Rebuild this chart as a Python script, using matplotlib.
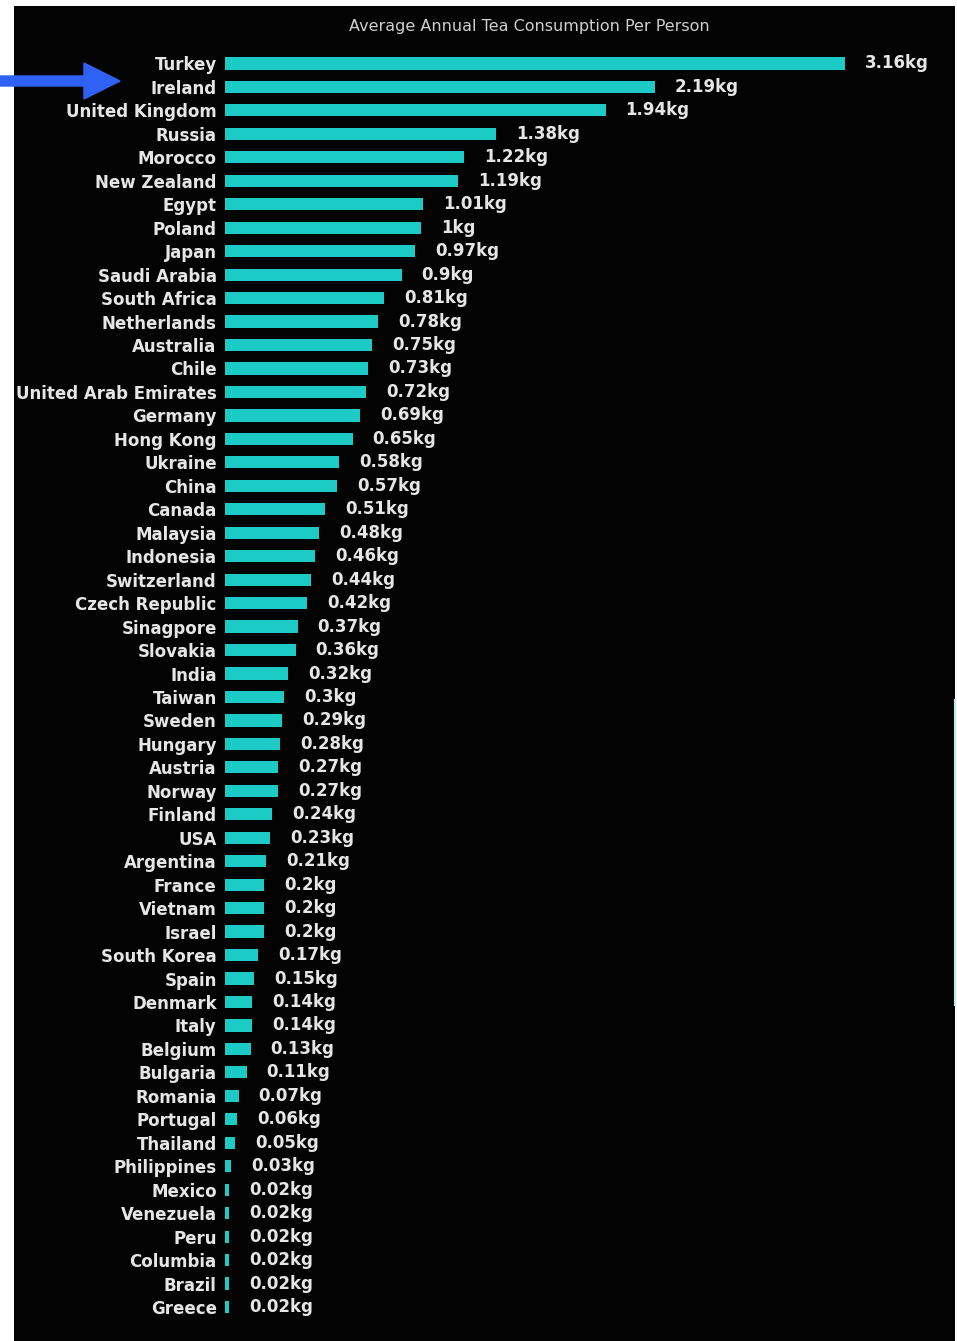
#!/usr/bin/env python3

import matplotlib
matplotlib.use("Agg")
import matplotlib.pyplot as plt
from matplotlib.patches import Rectangle, FancyArrow
from matplotlib.lines import Line2D

countries = [
    "Turkey", "Ireland", "United Kingdom", "Russia", "Morocco", "New Zealand",
    "Egypt", "Poland", "Japan", "Saudi Arabia", "South Africa", "Netherlands",
    "Australia", "Chile", "United Arab Emirates", "Germany", "Hong Kong",
    "Ukraine", "China", "Canada", "Malaysia", "Indonesia", "Switzerland",
    "Czech Republic", "Sinagpore", "Slovakia", "India", "Taiwan", "Sweden",
    "Hungary", "Austria", "Norway", "Finland", "USA", "Argentina", "France",
    "Vietnam", "Israel", "South Korea", "Spain", "Denmark", "Italy", "Belgium",
    "Bulgaria", "Romania", "Portugal", "Thailand", "Philippines", "Mexico",
    "Venezuela", "Peru", "Columbia", "Brazil", "Greece",
]
kg_per_person = [
    3.16, 2.19, 1.94, 1.38, 1.22, 1.19, 1.01, 1.00, 0.97, 0.90, 0.81, 0.78,
    0.75, 0.73, 0.72, 0.69, 0.65, 0.58, 0.57, 0.51, 0.48, 0.46, 0.44, 0.42,
    0.37, 0.36, 0.32, 0.30, 0.29, 0.28, 0.27, 0.27, 0.24, 0.23, 0.21, 0.20,
    0.20, 0.20, 0.17, 0.15, 0.14, 0.14, 0.13, 0.11, 0.07, 0.06, 0.05, 0.03,
    0.02, 0.02, 0.02, 0.02, 0.02, 0.02,
]
title = "Average Annual Tea Consumption Per Person"

BAR = "#1ccbc5"
TXT = "#e6e6e6"
W, H = 957, 1341

plt.rcParams["font.family"] = ["DejaVu Sans"]

fig = plt.figure(figsize=(W / 100, H / 100), dpi=100, facecolor="white")

# black panel behind the chart (screenshot frame)
fig.patches.append(Rectangle((14 / W, 0), (955 - 14) / W, (H - 6) / H,
                             transform=fig.transFigure, facecolor="#030303",
                             edgecolor="none", zorder=-5))
# faint light line on the right edge
fig.add_artist(Line2D([955 / W, 955 / W], [1 - 700 / H, 1 - 1005 / H],
                      transform=fig.transFigure, color="#bfe9f5", lw=1.5, zorder=-4))

# axes: x=0 at 225px, 196.2 px per kg; rows every 23.46px
ax_l, ax_r, ax_t, ax_b = 225, 955, 40, 1330
ax = fig.add_axes([ax_l / W, 1 - ax_b / H, (ax_r - ax_l) / W, (ax_b - ax_t) / H])
ax.set_facecolor("none")
ax.set_zorder(1)

y = list(range(len(countries)))
ax.barh(y, kg_per_person, height=0.52, color=BAR)
ax.set_xlim(0, (ax_r - ax_l) / 196.2)
ax.set_ylim(53.98, -1.0)

ax.set_yticks(y)
ax.set_yticklabels(countries, fontsize=12, fontweight="bold", color=TXT)
ax.tick_params(axis="y", length=0, pad=6)
ax.set_xticks([])
for s in ax.spines.values():
    s.set_visible(False)

for i, v in enumerate(kg_per_person):
    ax.annotate(f"{v:g}kg", (v, i), xytext=(20 * 0.72, 0), textcoords="offset points",
                va="center", ha="left", fontsize=12, fontweight="bold", color=TXT)

fig.text(529.5 / W, 1 - 26 / H, title, ha="center", va="center",
         fontsize=11.5, color="#cfcfcf")

# blue arrow pointing at Ireland
fig.patches.append(FancyArrow(0, 1 - 81 / H, 120 / W, 0, width=10 / H,
                              head_width=36 / H, head_length=36 / W,
                              length_includes_head=True, transform=fig.transFigure,
                              color="#2f62f4", zorder=5))

fig.savefig("out.png", dpi=100, facecolor="white")
